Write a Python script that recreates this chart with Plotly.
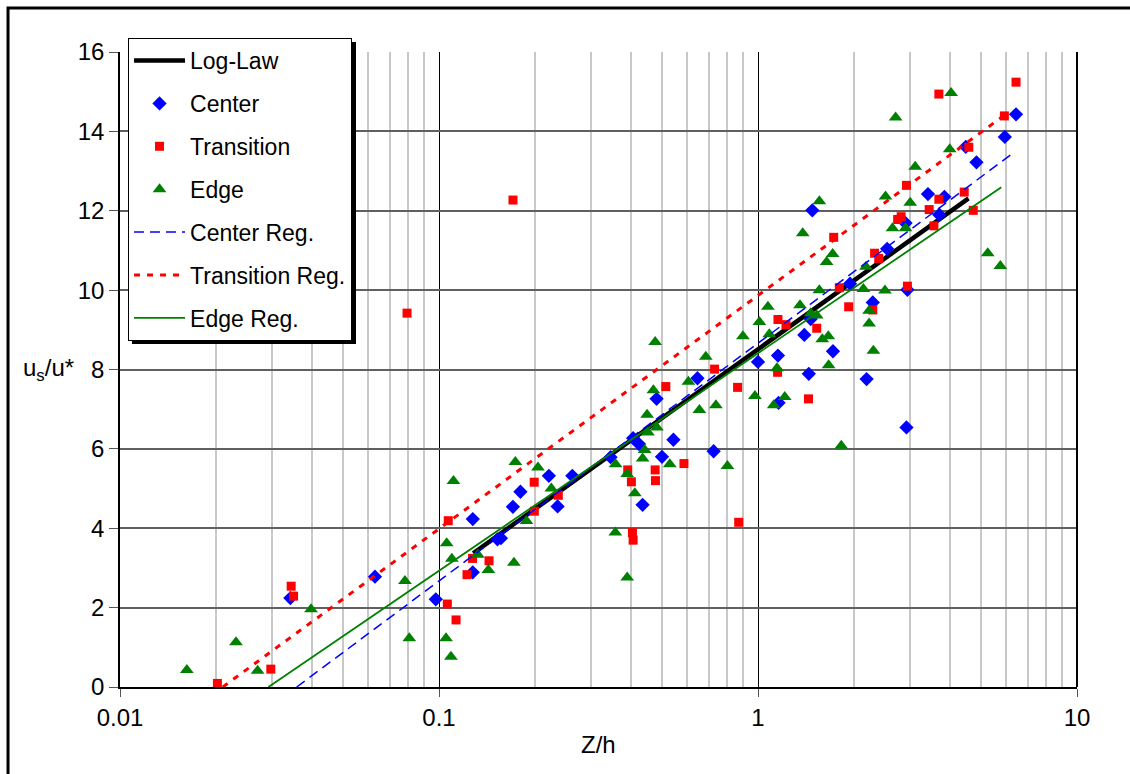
import plotly.graph_objects as go

# ---------------- data ----------------
center_x = [0.0342, 0.063, 0.0977, 0.1276, 0.1276, 0.1525, 0.1564, 0.1705, 0.180, 0.221,
            0.2354, 0.2618, 0.345, 0.406, 0.4236, 0.4348, 0.481, 0.500, 0.543, 0.646,
            0.726, 1.00, 1.155, 1.16, 1.397, 1.463, 1.443, 1.718, 1.48, 1.943,
            2.19, 2.29, 2.54, 2.90, 2.94, 2.92, 3.41, 3.70, 3.84, 4.48,
            4.84, 5.94, 6.44]
center_y = [2.24, 2.78, 2.21, 4.23, 2.89, 3.72, 3.75, 4.54, 4.92, 5.32,
            4.55, 5.32, 5.79, 6.27, 6.12, 4.59, 7.26, 5.80, 6.23, 7.78,
            5.94, 8.19, 8.35, 7.16, 8.87, 9.27, 7.89, 8.46, 12.01, 10.16,
            7.76, 9.69, 11.04, 11.69, 10.01, 6.54, 12.42, 11.90, 12.35, 13.61,
            13.22, 13.86, 14.43]

trans_x = [0.0202, 0.0297, 0.0344, 0.0350, 0.0794, 0.1062, 0.1069, 0.1131, 0.1224, 0.1274,
           0.1435, 0.1706, 0.199, 0.1988, 0.2366, 0.3905, 0.401, 0.404, 0.406, 0.476,
           0.477, 0.514, 0.586, 0.731, 0.863, 0.870, 1.155, 1.152, 1.224, 1.44,
           1.528, 1.727, 1.798, 1.924, 2.29, 2.32, 2.39, 2.74, 2.81, 2.92,
           2.94, 3.44, 3.56, 3.69, 3.69, 4.43, 4.58, 4.73, 5.92, 6.44]
trans_y = [0.09, 0.45, 2.54, 2.29, 9.42, 2.09, 4.19, 1.69, 2.83, 3.24,
           3.18, 12.27, 4.43, 5.16, 4.83, 5.47, 5.17, 3.89, 3.70, 5.47,
           5.20, 7.57, 5.63, 8.01, 7.55, 4.15, 9.26, 7.93, 9.13, 7.26,
           9.04, 11.33, 10.06, 9.58, 9.50, 10.93, 10.80, 11.78, 11.85, 12.64,
           10.10, 12.03, 11.62, 12.29, 14.94, 12.47, 13.60, 12.01, 14.39, 15.24]

edge_x = [0.0162, 0.0231, 0.0270, 0.0397, 0.0782, 0.0807, 0.1052, 0.1057, 0.1097, 0.109,
          0.111, 0.1324, 0.1428, 0.1717, 0.1735, 0.188, 0.2043, 0.225, 0.357, 0.3578,
          0.389, 0.389, 0.411, 0.4348, 0.4413, 0.449, 0.452, 0.470, 0.476, 0.482,
          0.529, 0.605, 0.655, 0.686, 0.738, 0.802, 0.897, 0.978, 1.01, 1.074,
          1.085, 1.12, 1.147, 1.213, 1.354, 1.381, 1.463, 1.528, 1.557, 1.557,
          1.59, 1.641, 1.661, 1.665, 1.714, 1.824, 2.14, 2.18, 2.23, 2.23,
          2.30, 2.50, 2.51, 2.64, 2.70, 2.90, 3.00, 3.11, 3.99, 4.03,
          5.25, 5.75]
edge_y = [0.43, 1.13, 0.41, 1.96, 2.67, 1.23, 1.23, 3.62, 3.23, 0.76,
          5.19, 3.33, 2.95, 3.13, 5.67, 4.18, 5.53, 5.00, 3.89, 5.61,
          5.37, 2.76, 4.88, 5.76, 5.97, 6.86, 6.41, 7.48, 8.69, 6.54,
          5.61, 7.69, 6.98, 8.32, 7.10, 5.57, 8.84, 7.33, 9.20, 9.58,
          8.89, 7.10, 8.03, 7.31, 9.62, 11.43, 9.42, 9.36, 10.00, 12.24,
          8.76, 10.71, 8.84, 8.11, 10.91, 6.08, 10.03, 10.59, 9.48, 9.16,
          8.47, 9.99, 12.36, 11.56, 14.35, 11.56, 12.20, 13.11, 13.55, 14.97,
          10.93, 10.61]

loglaw_x = [0.128, 4.57]
loglaw_y = [3.37, 12.31]
center_reg_x = [0.0358, 6.32]
center_reg_y = [0.0, 13.46]
trans_reg_x = [0.021, 6.02]
trans_reg_y = [0.0, 14.45]
edge_reg_x = [0.0292, 5.79]
edge_reg_y = [0.0, 12.59]

x_tick_vals = [0.01, 0.1, 1, 10]
x_tick_text = ["0.01", "0.1", "1", "10"]
x_minor_vals = [m * d for d in (0.01, 0.1, 1) for m in range(2, 10)]

FONT = "Arial, 'Liberation Sans', sans-serif"
FS_LEG = 23
FS_TICK = 24

fig = go.Figure()
fig.add_trace(go.Scatter(x=loglaw_x, y=loglaw_y, mode="lines", name="Log-Law",
                         line=dict(color="black", width=4.5), legendgroup="a"))
fig.add_trace(go.Scatter(x=center_x, y=center_y, mode="markers", name="Center",
                         marker=dict(symbol="diamond", color="#0000ff", size=11), legendgroup="b"))
fig.add_trace(go.Scatter(x=trans_x, y=trans_y, mode="markers", name="Transition",
                         marker=dict(symbol="square", color="#ff0000", size=9), legendgroup="c"))
fig.add_trace(go.Scatter(x=edge_x, y=edge_y, mode="markers", name="Edge",
                         marker=dict(symbol="triangle-up", color="#008000", size=12), legendgroup="d"))
fig.add_trace(go.Scatter(x=center_reg_x, y=center_reg_y, mode="lines", name="Center Reg.",
                         line=dict(color="#0000ff", width=1.5, dash="10px,6px"), legendgroup="e"))
fig.add_trace(go.Scatter(x=trans_reg_x, y=trans_reg_y, mode="lines", name="Transition Reg.",
                         line=dict(color="#ff0000", width=3, dash="6px,7px"), legendgroup="f"))
fig.add_trace(go.Scatter(x=edge_reg_x, y=edge_reg_y, mode="lines", name="Edge Reg.",
                         line=dict(color="#008000", width=1.8), legendgroup="g"))

fig.update_layout(
    width=1130, height=774,
    margin=dict(l=120, r=53, t=52, b=87),
    paper_bgcolor="white", plot_bgcolor="white",
    font=dict(family=FONT, size=FS_TICK, color="black"),
    showlegend=True,
    legend=dict(x=0.0084, y=1.022, xanchor="left", yanchor="top",
                bgcolor="white", bordercolor="black", borderwidth=1,
                font=dict(family=FONT, size=FS_LEG, color="black"),
                traceorder="grouped", tracegroupgap=10, itemwidth=51),
    xaxis=dict(type="log", range=[-2, 1], tickmode="array",
               tickvals=x_tick_vals, ticktext=x_tick_text,
               showgrid=True, gridcolor="black", gridwidth=1,
               minor=dict(tickmode="array", tickvals=x_minor_vals, showgrid=True,
                          gridcolor="#c8c8c8", gridwidth=1.5, ticks=""),
               showline=True, linecolor="black", linewidth=2, mirror=False,
               ticks="outside", ticklen=8, tickcolor="#555", tickwidth=1,
               tickfont=dict(family=FONT, size=FS_TICK), zeroline=False),
    yaxis=dict(range=[0, 16], dtick=2, tick0=0,
               showgrid=True, gridcolor="#606060", gridwidth=1.5,
               showline=True, linecolor="black", linewidth=1.5,
               ticks="outside", ticklen=9, tickcolor="#555", tickwidth=1,
               tickfont=dict(family=FONT, size=FS_TICK), zeroline=False),
    shapes=[
        # outer chart frame (right/bottom edges fall outside the canvas)
        dict(type="rect", xref="paper", yref="paper",
             x0=-0.117, x1=1.2, y0=-0.3, y1=1.0693,
             line=dict(color="black", width=3), fillcolor="rgba(0,0,0,0)", layer="above"),
        # legend shadow
        dict(type="rect", xref="paper", yref="paper",
             x0=0.0125, x1=0.2466, y0=0.5402, y1=1.0157,
             line=dict(width=0), fillcolor="black", layer="above"),
        # plot right border
        dict(type="line", xref="paper", yref="paper", x0=1, x1=1, y0=0, y1=1,
             line=dict(color="black", width=2), layer="above"),
    ],
    annotations=[
        dict(text="u<sub>s</sub>/u*", xref="paper", yref="paper",
             x=-0.046, y=0.5, xanchor="right", yanchor="middle",
             showarrow=False, font=dict(family=FONT, size=FS_TICK)),
        dict(text="Z/h", xref="paper", yref="paper",
             x=0.5, y=-0.091, xanchor="center", yanchor="middle",
             showarrow=False, font=dict(family=FONT, size=FS_TICK)),
    ],
)

fig.write_html("out.html")
